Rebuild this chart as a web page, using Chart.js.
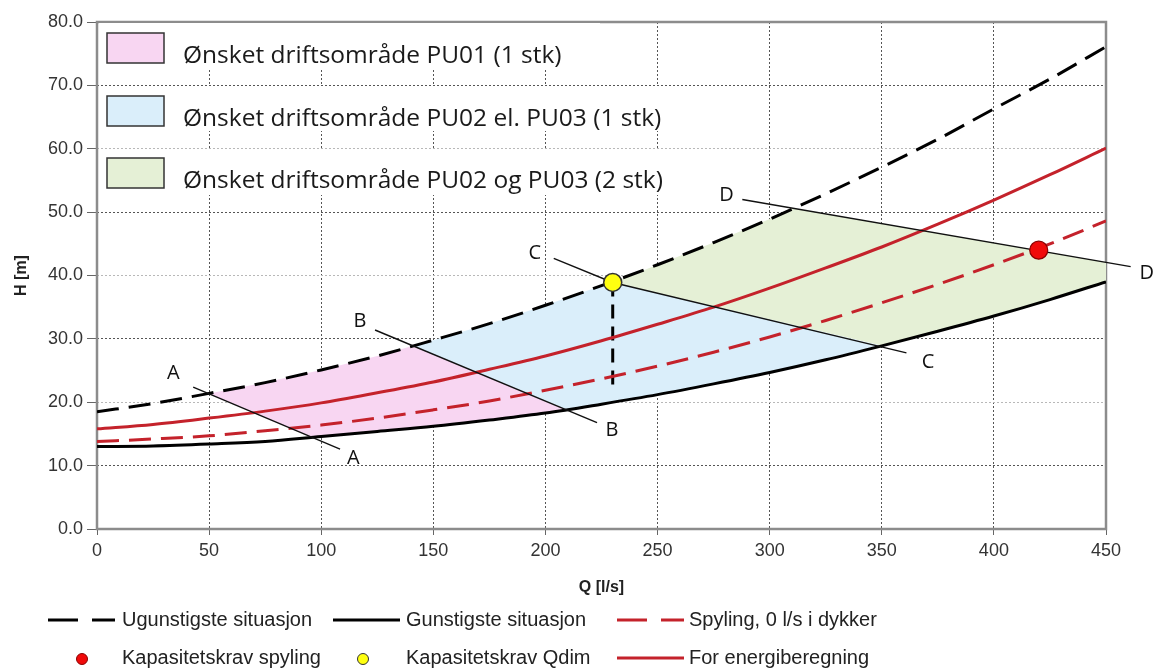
<!DOCTYPE html>
<html>
<head>
<meta charset="utf-8">
<title>Driftsområde pumper</title>
<script src="https://cdn.jsdelivr.net/npm/chart.js@4.4.1/dist/chart.umd.min.js"></script>
<style>
  html, body { margin: 0; padding: 0; background: #fff; }
  #wrap { width: 1157px; height: 669px; position: relative; }
</style>
</head>
<body>
<div id="wrap"><canvas id="pumpChart"></canvas></div>
<script>
// Q [l/s] where the system curves were read
const flowSteps = [0, 25, 50, 75, 100, 125, 150, 175, 200, 225, 250, 275, 300, 325, 350, 375, 400, 425, 450];

// H [m] per curve
const ugunstigste = [18.5, 19.8, 21.4, 23.1, 25.1, 27.3, 29.8, 32.4, 35.3, 38.4, 41.7, 45.2, 48.9, 52.9, 57.1, 61.5, 66.3, 71.0, 76.1];
const gunstigste = [13.0, 13.1, 13.4, 13.8, 14.6, 15.4, 16.2, 17.2, 18.3, 19.7, 21.2, 22.9, 24.7, 26.7, 28.9, 31.2, 33.6, 36.2, 39.0];
const spyling = [13.8, 14.2, 14.7, 15.5, 16.4, 17.5, 18.8, 20.2, 21.9, 23.7, 25.7, 27.9, 30.3, 32.9, 35.7, 38.6, 41.7, 45.0, 48.6];
const energi = [15.8, 16.5, 17.5, 18.6, 19.9, 21.5, 23.2, 25.2, 27.3, 29.7, 32.3, 35.0, 38.0, 41.2, 44.5, 48.1, 51.9, 55.9, 60.1];

// capacity requirements
const qdimPoint = [{ x: 230, y: 38.9 }];
const spylingPoint = [{ x: 420, y: 44.0 }];
const qdimDrop = [{ x: 230, y: 38.9 }, { x: 230, y: 22.0 }];

// boundary lines A-D
const lineA = [{ x: 42.9, y: 22.4 }, { x: 108.4, y: 12.6 }];
const lineB = [{ x: 124, y: 31.4 }, { x: 223, y: 16.8 }];
const lineC = [{ x: 203.7, y: 42.7 }, { x: 230, y: 38.9 }, { x: 361, y: 27.8 }];
const lineD = [{ x: 287.8, y: 52.0 }, { x: 461, y: 41.4 }];
const lineLetters = [
  { text: 'A', x: 34, y: 24.6 }, { text: 'A', x: 114.3, y: 11.2 },
  { text: 'B', x: 117.3, y: 32.7 }, { text: 'B', x: 229.7, y: 15.6 },
  { text: 'C', x: 195.3, y: 43.5 }, { text: 'C', x: 370.6, y: 26.3 },
  { text: 'D', x: 280.8, y: 52.7 }, { text: 'D', x: 468.2, y: 40.3 }
];

// where the boundary lines meet the curves
const aTop = { x: 49.5, y: 21.4 }, aBottom = { x: 96, y: 14.45 };
const bTop = { x: 141, y: 28.9 }, bBottom = { x: 209, y: 18.9 };
const cTop = { x: 230, y: 38.9 }, cBottom = { x: 350, y: 28.9 };
const dTop = { x: 310, y: 50.6 }, dEdge = { x: 450, y: 42.1 };

const areaLabels = [
  'Ønsket driftsområde PU01 (1 stk)',
  'Ønsket driftsområde PU02 el. PU03 (1 stk)',
  'Ønsket driftsområde PU02 og PU03 (2 stk)'
];
const areaColors = ['#f8d6f2', '#daeefa', '#e5f0d6'];

const toPoints = ys => flowSteps.map((q, i) => ({ x: q, y: ys[i] }));
const within = (ys, from, to) => toPoints(ys).filter(p => p.x > from && p.x < to);

const pu01Shape = [aTop, ...within(ugunstigste, aTop.x, bTop.x), bTop, bBottom,
  ...within(gunstigste, aBottom.x, bBottom.x).reverse(), aBottom];
const pu02Shape = [bTop, ...within(ugunstigste, bTop.x, cTop.x), cTop, cBottom,
  ...within(gunstigste, bBottom.x, cBottom.x).reverse(), bBottom];
const pu0203Shape = [cTop, ...within(ugunstigste, cTop.x, dTop.x), dTop, dEdge,
  ...within(gunstigste, cBottom.x, 451).reverse(), cBottom];

const darkRed = '#c4222b';

function area(label, data, color) {
  return {
    label: label, data: data, fill: 'shape', backgroundColor: color,
    borderColor: 'rgba(0,0,0,0)', borderWidth: 0, pointRadius: 0, tension: 0, order: 20
  };
}
function curve(label, ys, color, dash) {
  return {
    label: label, data: toPoints(ys), borderColor: color, borderWidth: 3,
    borderDash: dash, pointRadius: 0, fill: false, cubicInterpolationMode: 'monotone', order: 3
  };
}
function thinLine(data) {
  return {
    label: '', data: data, borderColor: '#111', borderWidth: 1.4,
    pointRadius: 0, fill: false, tension: 0, order: 2, clip: false
  };
}

const datasets = [
  area(areaLabels[0], pu01Shape, areaColors[0]),
  area(areaLabels[1], pu02Shape, areaColors[1]),
  area(areaLabels[2], pu0203Shape, areaColors[2]),
  curve('Ugunstigste situasjon', ugunstigste, '#000', [22, 10]),
  curve('Gunstigste situasjon', gunstigste, '#000', []),
  curve('Spyling, 0 l/s i dykker', spyling, darkRed, [22, 10]),
  curve('For energiberegning', energi, darkRed, []),
  {
    label: '', data: qdimDrop, borderColor: '#000', borderWidth: 3, borderDash: [14, 8],
    pointRadius: 0, fill: false, order: 3
  },
  thinLine(lineA), thinLine(lineB), thinLine(lineC), thinLine(lineD),
  {
    label: 'Kapasitetskrav spyling', data: spylingPoint, showLine: false,
    pointRadius: 9, pointBackgroundColor: '#f00a0a', pointBorderColor: '#8a0000',
    pointBorderWidth: 1.2, borderColor: '#8a0000', order: 0
  },
  {
    label: 'Kapasitetskrav Qdim', data: qdimPoint, showLine: false,
    pointRadius: 9, pointBackgroundColor: '#ffff10', pointBorderColor: '#333',
    pointBorderWidth: 1.5, borderColor: '#333', order: 0
  }
];

// legend rows below the chart: [dataset label, kind]
const bottomLegend = [
  ['Ugunstigste situasjon', 'line'], ['Gunstigste situasjon', 'line'], ['Spyling, 0 l/s i dykker', 'line'],
  ['Kapasitetskrav spyling', 'dot'], ['Kapasitetskrav Qdim', 'dot'], ['For energiberegning', 'line']
];

const decor = {
  id: 'decor',
  beforeDatasetsDraw(chart) {
    const { ctx, chartArea: a } = chart;
    ctx.save();
    // plot frame
    ctx.strokeStyle = '#8c8c8c';
    ctx.lineWidth = 2.5;
    ctx.strokeRect(a.left, a.top, a.right - a.left, a.bottom - a.top);

    // area legend, top left
    const rowTops = [a.top + 1, 86, 150];
    const rowBottoms = [70, 131, 195];
    const rowRights = [600, 690, 690];
    ctx.font = '24.5px "Open Sans"';
    ctx.textBaseline = 'alphabetic';
    areaLabels.forEach((text, i) => {
      ctx.fillStyle = '#fff';
      ctx.fillRect(a.left + 2, rowTops[i], rowRights[i] - a.left - 2, rowBottoms[i] - rowTops[i]);
      const boxTop = [33, 96, 158][i];
      ctx.fillStyle = areaColors[i];
      ctx.fillRect(107, boxTop, 57, 30);
      ctx.strokeStyle = '#333';
      ctx.lineWidth = 1.5;
      ctx.strokeRect(107, boxTop, 57, 30);
      ctx.fillStyle = '#1a1a1a';
      ctx.fillText(text, 183, boxTop + 30);
    });
    ctx.restore();
  },
  afterDatasetsDraw(chart) {
    const { ctx } = chart;
    const x = chart.scales.x, y = chart.scales.y;
    ctx.save();
    ctx.font = '20px "Open Sans"';
    ctx.fillStyle = '#111';
    ctx.textAlign = 'center';
    ctx.textBaseline = 'middle';
    lineLetters.forEach(l => ctx.fillText(l.text, x.getPixelForValue(l.x), y.getPixelForValue(l.y)));

    // series legend under the axis
    const cols = [[48, 82, 122], [333, 363, 406], [617, 650, 689]];
    const rows = [620, 658];
    ctx.font = '20px "Liberation Sans", Arial, sans-serif';
    ctx.textAlign = 'left';
    ctx.fillStyle = '#222';
    bottomLegend.forEach(([label, kind], i) => {
      const ds = chart.data.datasets.find(d => d.label === label);
      const col = cols[i % 3], rowY = rows[Math.floor(i / 3)];
      ctx.save();
      if (kind === 'line') {
        ctx.strokeStyle = ds.borderColor;
        ctx.lineWidth = ds.borderWidth;
        ctx.setLineDash(ds.borderDash && ds.borderDash.length ? [30, 14] : []);
        ctx.beginPath();
        ctx.moveTo(col[0], rowY);
        ctx.lineTo(col[0] + 67, rowY);
        ctx.stroke();
      } else {
        ctx.fillStyle = ds.pointBackgroundColor;
        ctx.strokeStyle = ds.pointBorderColor;
        ctx.lineWidth = 1;
        ctx.beginPath();
        ctx.arc(col[1], rowY + 1, 5.5, 0, Math.PI * 2);
        ctx.fill();
        ctx.stroke();
      }
      ctx.restore();
      ctx.fillText(label, col[2], rowY);
    });
    ctx.restore();
  }
};

const tickFont = { family: '"Liberation Sans", Arial, sans-serif', size: 18 };

new Chart(document.getElementById('pumpChart'), {
  type: 'line',
  data: { datasets: datasets },
  options: {
    responsive: true,
    maintainAspectRatio: false,
    animation: false,
    events: [],
    layout: { padding: { top: 22, right: 51, bottom: 68, left: 0 } },
    plugins: { legend: { display: false }, tooltip: { enabled: false } },
    scales: {
      x: {
        type: 'linear', min: 0, max: 450,
        afterFit: s => { s.height = 72; },
        ticks: { stepSize: 50, color: '#333', font: tickFont, padding: 5, maxRotation: 0 },
        grid: { color: '#555', lineWidth: 1, tickLength: 6, tickColor: '#666' },
        border: { display: false, dash: [2, 2] },
        title: {
          display: true, text: 'Q [l/s]', color: '#222',
          font: { family: '"Liberation Sans", Arial, sans-serif', size: 16, weight: 'bold' }
        }
      },
      y: {
        min: 0, max: 80,
        afterFit: s => { s.width = 97; },
        ticks: { stepSize: 10, color: '#333', font: tickFont, padding: 4, callback: v => v.toFixed(1) },
        grid: {
          color: c => (c.tick && Math.round(c.tick.value / 10) % 2 === 0 ? '#b8b8b8' : '#555'),
          lineWidth: 1, tickLength: 10, tickColor: '#666'
        },
        border: { display: false, dash: [2, 2] },
        title: {
          display: true, text: 'H [m]', color: '#222', padding: { top: 12, bottom: 4 },
          font: { family: '"Liberation Sans", Arial, sans-serif', size: 16, weight: 'bold' }
        }
      }
    }
  },
  plugins: [decor]
});
</script>
</body>
</html>
